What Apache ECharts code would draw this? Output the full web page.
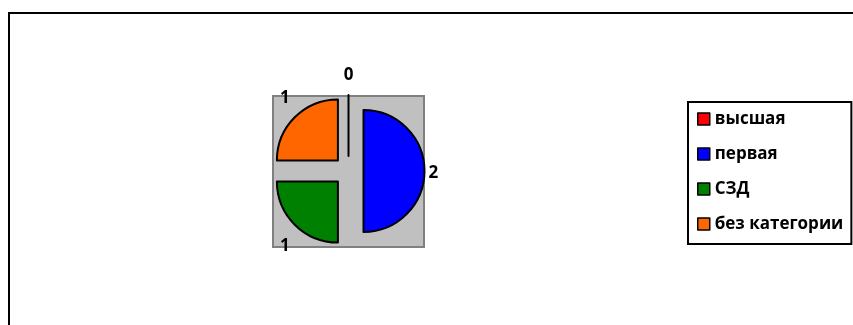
<!DOCTYPE html>
<html>
<head>
<meta charset="utf-8">
<script src="https://cdn.jsdelivr.net/npm/echarts@6/dist/echarts.min.js"></script>
<style>
  html, body { margin: 0; padding: 0; background: #fff; }
  #main { width: 853px; height: 325px; }
</style>
</head>
<body>
<div id="main"></div>
<script>
  const categories = ['высшая', 'первая', 'СЗД', 'без категории']
  const counts = [0, 2, 1, 1]
  const colors = ['#FF0000', '#0000FF', '#008000', '#FF6600']

  const font = '"Open Sans", "Noto Sans", sans-serif'

  let pieData = []
  for (let i = 0; i < categories.length; i++) {
    pieData.push({name: categories[i], value: counts[i], selected: true})
  }

  // подписи стоят как в Excel ("по ширине"), сдвигаем их от стандартного места
  function shiftLabel (params) {
    switch (params.dataIndex) {
      case 0: return {dx: 5, dy: -10}
      case 1: return {dx: -6, dy: 2}
      case 2: return {dx: 2, dy: 14}
      case 3: return {dx: 2, dy: -12}
    }
  }

  let chart = echarts.init(document.getElementById('main'))
  chart.setOption({
    animation: false,
    color: colors,
    graphic: [
      // рамка диаграммы
      {type: 'rect', z: -10, shape: {x: 9, y: 13, width: 900, height: 400},
        style: {fill: 'none', stroke: '#000', lineWidth: 2}},
      // область построения
      {type: 'rect', z: -5, shape: {x: 273, y: 96, width: 151, height: 151},
        style: {fill: '#C0C0C0', stroke: '#808080', lineWidth: 2}}
    ],
    legend: {
      orient: 'vertical',
      left: 688,
      top: 102,
      padding: [7, 8, 10, 9],
      itemGap: 15,
      itemWidth: 12,
      itemHeight: 12,
      icon: 'rect',
      borderColor: '#000',
      borderWidth: 2,
      itemStyle: {borderColor: '#000', borderWidth: 1.5},
      textStyle: {fontFamily: font, fontWeight: 'bold', fontSize: 17, color: '#000', lineHeight: 20},
      data: categories
    },
    series: [
      {
        name: 'категория',
        type: 'pie',
        center: [348.5, 171],
        radius: 61,
        startAngle: 90,
        clockwise: true,
        selectedMode: 'multiple',
        selectedOffset: 15,
        avoidLabelOverlap: false,
        itemStyle: {borderColor: '#000', borderWidth: 2},
        label: {
          show: true,
          position: 'outside',
          formatter: '{c}',
          fontFamily: font,
          fontWeight: 'bold',
          fontSize: 17,
          color: '#000',
          distanceToLabelLine: 0
        },
        labelLine: {show: false, length: 10, length2: 0},
        labelLayout: shiftLabel,
        emphasis: {disabled: true},
        data: pieData
      }
    ]
  })
</script>
</body>
</html>
